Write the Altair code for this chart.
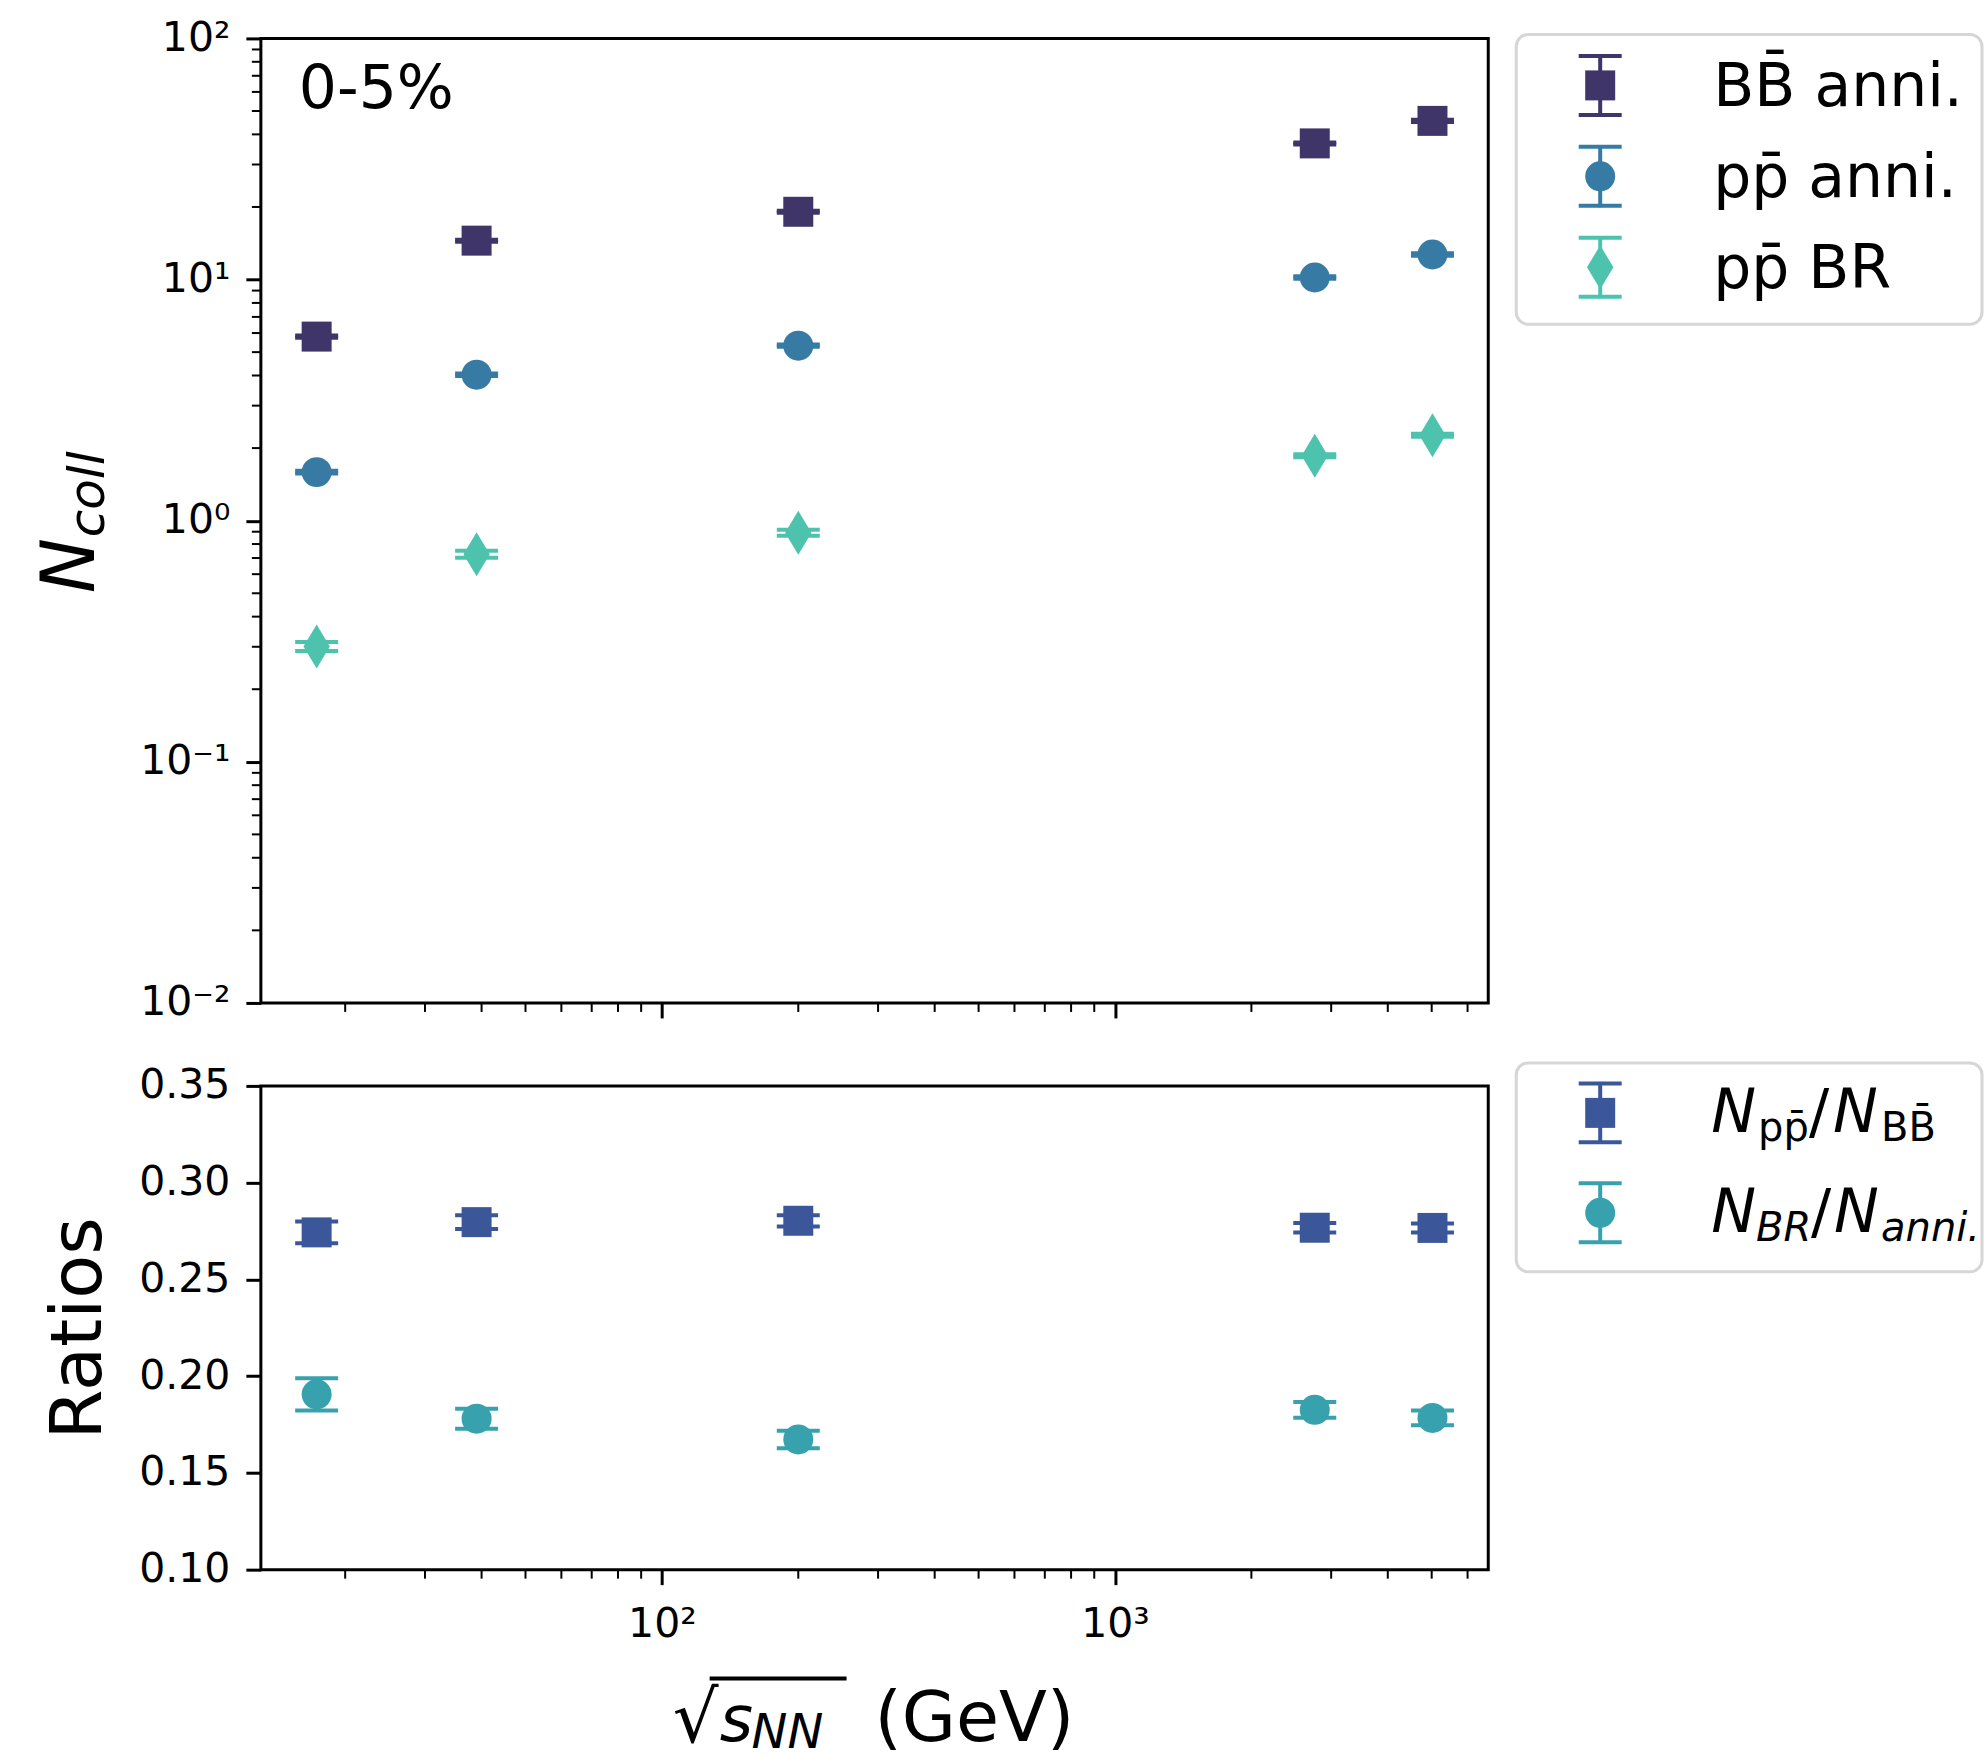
import math
import altair as alt
import pandas as pd

FONT = "DejaVu Sans"

# ---------------- data ----------------
energy = [17.3, 39.0, 200.0, 2760.0, 5020.0]

bb_anni = [5.8, 14.5, 19.1, 36.7, 45.5]
bb_anni_err = [0.06, 0.14, 0.19, 0.35, 0.45]
pp_anni = [1.59, 4.03, 5.32, 10.2, 12.7]
pp_anni_err = [0.02, 0.05, 0.06, 0.12, 0.15]
pp_br = [0.301, 0.726, 0.892, 1.86, 2.26]
pp_br_err = [0.0126, 0.024, 0.025, 0.027, 0.033]

ratio_pp_bb = [0.2743, 0.2796, 0.2803, 0.2767, 0.2766]
ratio_pp_bb_err = [0.0056, 0.0036, 0.0029, 0.0024, 0.0023]
ratio_br_anni = [0.1906, 0.1780, 0.1673, 0.1826, 0.1784]
ratio_br_anni_err = [0.0083, 0.0052, 0.0045, 0.0041, 0.0038]

top_names = ["BB\u0304 anni.", "pp\u0304 anni.", "pp\u0304 BR"]
ratio_label_parts = [["N", "pp\u0304", "/", "N", "BB\u0304"],
                     ["N", "BR", "/", "N", "anni."]]
centrality = "0-5%"
ytitle_parts = ["N", "coll"]
xtitle_parts = ["\u221a", "s", "NN", "(GeV)"]
ratio_title = "Ratios"

x_major = [100, 1000]
x_major_labels = ["10\u00b2", "10\u00b3"]
x_minor = [20, 30, 40, 50, 60, 70, 80, 90,
           200, 300, 400, 500, 600, 700, 800, 900,
           2000, 3000, 4000, 5000, 6000]
y_major = [0.01, 0.1, 1, 10, 100]
y_major_labels = ["10\u207b\u00b2", "10\u207b\u00b9", "10\u2070", "10\u00b9", "10\u00b2"]
y_minor = [0.02, 0.03, 0.04, 0.05, 0.06, 0.07, 0.08, 0.09,
           0.2, 0.3, 0.4, 0.5, 0.6, 0.7, 0.8, 0.9,
           2, 3, 4, 5, 6, 7, 8, 9,
           20, 30, 40, 50, 60, 70, 80, 90]
ratio_ticks = [0.10, 0.15, 0.20, 0.25, 0.30, 0.35]

# ---------------- styles ----------------
C_BB = "#3f3568"
C_PA = "#377ba4"
C_BR = "#4dc3ae"
C_R1 = "#3c5799"
C_R2 = "#37a2ad"
DIAMOND = "M0,-1L0.6,0L0,1L-0.6,0Z"
SQ_SIZE = 900
CI_SIZE = 900
DI_SIZE = 1936

W = 1228
H_TOP = 965
H_BOT = 484
LEG_W = 466

xscale = alt.Scale(type="log", domain=[13.03, 6665], nice=False)
yscale_top = alt.Scale(type="log", domain=[0.01, 100], nice=False)
yscale_bot = alt.Scale(type="linear", domain=[0.10, 0.35], nice=False, zero=False)


def label_expr(vals, labels):
    parts = [f"abs(log(datum.value)/LN10 - ({math.log10(v):.6f})) < 0.01 ? '{l}'"
             for v, l in zip(vals, labels)]
    return " : ".join(parts) + " : ''"


xaxis_top = alt.Axis(values=x_major, labels=False, title=None)
xaxis_bot = alt.Axis(values=x_major, labelExpr=label_expr(x_major, x_major_labels), title=None)
yaxis_top = alt.Axis(values=y_major, labelExpr=label_expr(y_major, y_major_labels), title=None)
yaxis_bot = alt.Axis(values=ratio_ticks, format=".2f", title=ratio_title, titlePadding=23)


def series_layers(y, err, color, shape, size, xaxis, yscale, yaxis):
    df = pd.DataFrame({
        "x": energy,
        "y": y,
        "lo": [a - e for a, e in zip(y, err)],
        "hi": [a + e for a, e in zip(y, err)],
    })
    base = alt.Chart(df)
    X = alt.X("x:Q", scale=xscale, axis=xaxis)
    stem = base.mark_rule(color=color, strokeWidth=4, opacity=1).encode(
        x=X, y=alt.Y("lo:Q", scale=yscale, axis=yaxis), y2="hi:Q")
    cap_lo = base.mark_tick(orient="horizontal", size=43, thickness=4, color=color, opacity=1).encode(
        x=X, y=alt.Y("lo:Q", scale=yscale, axis=yaxis))
    cap_hi = base.mark_tick(orient="horizontal", size=43, thickness=4, color=color, opacity=1).encode(
        x=X, y=alt.Y("hi:Q", scale=yscale, axis=yaxis))
    pt = base.mark_point(shape=shape, size=size, filled=True, color=color, opacity=1, strokeWidth=0).encode(
        x=X, y=alt.Y("y:Q", scale=yscale, axis=yaxis))
    return [stem, cap_lo, cap_hi, pt]


def minor_x(height, xaxis):
    return alt.Chart(pd.DataFrame({"v": x_minor})).mark_rule(color="black", strokeWidth=2).encode(
        x=alt.X("v:Q", scale=xscale, axis=xaxis), y=alt.value(height), y2=alt.value(height + 9))


def text_piece(txt, x, y, size, italic=False, angle=0, dx=0, dy=0):
    return alt.Chart(pd.DataFrame({"t": [txt]})).mark_text(
        align="left", baseline="alphabetic", fontSize=size, font=FONT, color="black",
        fontStyle="italic" if italic else "normal", angle=angle, dx=dx, dy=dy,
    ).encode(x=alt.value(x), y=alt.value(y), text="t:N")


# ---------------- top panel ----------------
top_layers = []
for y, e, c, s, sz in [(bb_anni, bb_anni_err, C_BB, "square", SQ_SIZE),
                       (pp_anni, pp_anni_err, C_PA, "circle", CI_SIZE),
                       (pp_br, pp_br_err, C_BR, DIAMOND, DI_SIZE)]:
    top_layers += series_layers(y, e, c, s, sz, xaxis_top, yscale_top, yaxis_top)
top_layers.append(
    alt.Chart(pd.DataFrame({"v": y_minor})).mark_rule(color="black", strokeWidth=2).encode(
        y=alt.Y("v:Q", scale=yscale_top, axis=yaxis_top), x=alt.value(-9), x2=alt.value(0)))
top_layers.append(minor_x(H_TOP, xaxis_top))
top_layers.append(text_piece(centrality, 38, 70, 60))
top_layers.append(text_piece(ytitle_parts[0], -167, 555, 74, italic=True, angle=270))
top_layers.append(text_piece(ytitle_parts[1], -167, 555, 50, italic=True, angle=270, dx=56, dy=10))

top = alt.layer(*top_layers).properties(
    width=W, height=H_TOP, view=alt.ViewBackground(stroke="black", strokeWidth=3, fill="white"))

# ---------------- bottom panel ----------------
bot_layers = []
for y, e, c, s, sz in [(ratio_pp_bb, ratio_pp_bb_err, C_R1, "square", SQ_SIZE),
                       (ratio_br_anni, ratio_br_anni_err, C_R2, "circle", CI_SIZE)]:
    bot_layers += series_layers(y, e, c, s, sz, xaxis_bot, yscale_bot, yaxis_bot)
bot_layers.append(minor_x(H_BOT, xaxis_bot))
bot_layers.append(text_piece(xtitle_parts[0], 412, 656, 72))
bot_layers.append(text_piece(xtitle_parts[1], 459, 655, 64, italic=True))
bot_layers.append(text_piece(xtitle_parts[2], 491, 662, 48, italic=True))
bot_layers.append(text_piece(xtitle_parts[3], 614, 655, 70))
bot_layers.append(
    alt.Chart(pd.DataFrame({"t": [0]})).mark_rule(color="black", strokeWidth=4).encode(
        x=alt.value(449), x2=alt.value(586), y=alt.value(593)))

bot = alt.layer(*bot_layers).properties(
    width=W, height=H_BOT, view=alt.ViewBackground(stroke="black", strokeWidth=3, fill="white"))


# ---------------- legends ----------------
def legend_box(y0, y1):
    return alt.Chart(pd.DataFrame({"t": [0]})).mark_rect(
        fill="white", stroke="#d6d6d6", strokeWidth=3, cornerRadius=12
    ).encode(x=alt.value(0), x2=alt.value(LEG_W), y=alt.value(y0), y2=alt.value(y1))


def legend_symbol(row, color, shape, size, yscale):
    base = alt.Chart(pd.DataFrame({"row": [row]}))
    Y = alt.Y("row:Q", scale=yscale, axis=None)
    X = alt.value(84)
    stem = base.mark_tick(orient="vertical", size=62, thickness=4, color=color, opacity=1).encode(x=X, y=Y)
    c1 = base.mark_tick(orient="horizontal", size=43, thickness=4, color=color, opacity=1, yOffset=-29.5).encode(x=X, y=Y)
    c2 = base.mark_tick(orient="horizontal", size=43, thickness=4, color=color, opacity=1, yOffset=29.5).encode(x=X, y=Y)
    pt = base.mark_point(shape=shape, size=size, filled=True, color=color, opacity=1, strokeWidth=0).encode(x=X, y=Y)
    return [stem, c1, c2, pt]


NOVIEW = alt.ViewBackground(stroke="transparent", fill="transparent")

leg1_scale = alt.Scale(domain=[0, 2], range=[47, 229])
leg1_layers = [legend_box(-4, 286)]
for i, (c, s, sz) in enumerate([(C_BB, "square", SQ_SIZE), (C_PA, "circle", CI_SIZE), (C_BR, DIAMOND, DI_SIZE)]):
    leg1_layers += legend_symbol(i, c, s, sz, leg1_scale)
leg1_layers.append(
    alt.Chart(pd.DataFrame({"row": [0, 1, 2], "label": top_names})).mark_text(
        align="left", baseline="alphabetic", fontSize=60, font=FONT, color="black", dy=21
    ).encode(x=alt.value(197), y=alt.Y("row:Q", scale=leg1_scale, axis=None), text="label:N"))
leg1 = alt.layer(*leg1_layers).properties(width=LEG_W, height=286, view=NOVIEW)

leg2_scale = alt.Scale(domain=[0, 1], range=[27, 127])
leg2_layers = [legend_box(-23, 186)]
for i, (c, s, sz) in enumerate([(C_R1, "square", SQ_SIZE), (C_R2, "circle", CI_SIZE)]):
    leg2_layers += legend_symbol(i, c, s, sz, leg2_scale)
piece_x = [[195, 242, 293, 317, 365], [195, 240, 295, 318, 365]]
sub_italic = [False, True]
for r, parts in enumerate(ratio_label_parts):
    for j, part in enumerate(parts):
        is_sub = j in (1, 4)
        if is_sub:
            style = "italic" if sub_italic[r] else "normal"
        else:
            style = "normal" if part == "/" else "italic"
        leg2_layers.append(
            alt.Chart(pd.DataFrame({"row": [r], "t": [part]})).mark_text(
                align="left", baseline="alphabetic", font=FONT, color="black",
                fontSize=40 if is_sub else 60, fontStyle=style,
                dy=28 if is_sub else 19,
            ).encode(x=alt.value(piece_x[r][j]), y=alt.Y("row:Q", scale=leg2_scale, axis=None), text="t:N"))
leg2 = alt.layer(*leg2_layers).properties(width=LEG_W, height=186, view=NOVIEW)

# ---------------- assemble ----------------
chart = alt.concat(
    top, leg1, bot, leg2, columns=2, bounds="flush",
    spacing=alt.RowColnumber(row=83, column=28),
).properties(
    padding={"left": 33, "top": 15, "right": 0, "bottom": 0},
    background="white",
).configure_axis(
    labelFont=FONT, labelFontSize=41, labelColor="black",
    tickColor="black", tickWidth=3, tickSize=15, labelPadding=16,
    titleFont=FONT, titleFontSize=72, titleFontWeight="normal", titleColor="black",
    domain=False, grid=False, labelOverlap=False,
).configure_axisX(labelPadding=20)

chart.save("out.html", embed_options={"renderer": "svg", "actions": False})
